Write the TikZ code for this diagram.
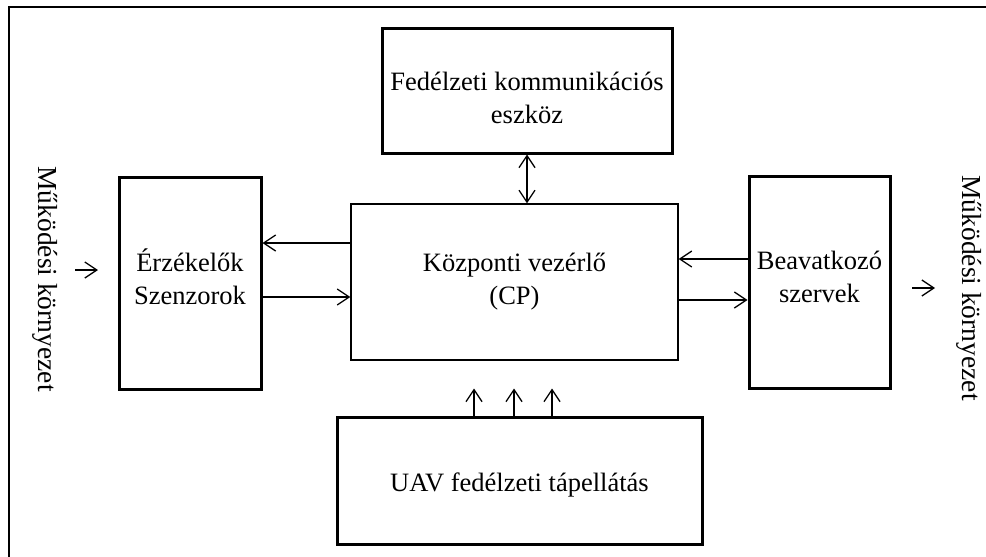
\documentclass[tikz,border=0pt]{standalone}
\usepackage{fontspec}
\setmainfont{Liberation Serif}
\usetikzlibrary{arrows.meta}
\tikzset{
  block/.style={draw=black, line width=3pt, fill=white, inner sep=0pt},
  cpbox/.style={draw=black, line width=1.3pt, fill=white, inner sep=0pt},
  lbl/.style={align=center, inner sep=0pt, font=\fontsize{26.5}{33}\selectfont},
  barb/.tip={Straight Barb[length=12pt,width=16pt,line width=1.3pt]},
  link/.style={line width=1.3pt, -barb},
  both/.style={line width=1.3pt, barb-barb},
  envtext/.style={rotate=-90, font=\fontsize{27.5}{33}\selectfont, inner sep=0pt}
}
\begin{document}
\begin{tikzpicture}[x=1pt, y=-1pt]
  \useasboundingbox (0,0) rectangle (986,557);
  % outer frame (open to the right and bottom)
  \draw[line width=1.5pt] (986,7) -- (9,7) -- (9,557);

  % blocks
  \node[block, minimum width=290pt, minimum height=125pt] (comm) at (527,90.5) {};
  \node[block, minimum width=142pt, minimum height=212pt] (sens) at (190,283) {};
  \node[cpbox, minimum width=327pt, minimum height=156pt] (cp) at (514.5,282) {};
  \node[block, minimum width=141pt, minimum height=212pt] (act) at (819.5,282) {};
  \node[block, minimum width=365pt, minimum height=127pt] (pow) at (519.5,480.5) {};

  % block captions
  \node[lbl] (commtxt) at ([yshift=-7pt]comm.center) {Fedélzeti kommunikációs\\eszköz};
  \node[lbl] (senstxt) at ([yshift=6pt]sens.center) {Érzékelők\\Szenzorok};
  \node[lbl] (cptxt) at (cp.center) {Központi vezérlő\\(CP)};
  \node[lbl] (acttxt) at ([yshift=5pt]act.center) {Beavatkozó\\szervek};
  \node[lbl] (powtxt) at ([yshift=-4pt]pow.center) {UAV fedélzeti tápellátás};

  % environment labels
  \node[envtext] (envL) at (45,279) {Működési környezet};
  \node[envtext] (envR) at (969,288) {Működési környezet};

  % communication link
  \draw[both] (comm.south) -- (comm.south |- cp.north);

  % sensors <-> controller
  \draw[link] ([yshift=39pt]cp.west) -- ([yshift=39pt]cp.west -| sens.east);
  \draw[link] ([yshift=-14pt]sens.east) -- ([yshift=-14pt]sens.east -| cp.west);

  % actuators <-> controller
  \draw[link] ([yshift=23pt]act.west) -- ([yshift=23pt]act.west -| cp.east);
  \draw[link] ([yshift=-18pt]cp.east) -- ([yshift=-18pt]cp.east -| act.west);

  % power supply feeds
  \coordinate (p1) at ([xshift=-45.5pt, yshift=27pt]pow.north);
  \coordinate (p2) at ([xshift=-5.5pt, yshift=27pt]pow.north);
  \coordinate (p3) at ([xshift=32.5pt, yshift=27pt]pow.north);
  \draw[link] (p1 |- pow.north) -- (p1);
  \draw[link] (p2 |- pow.north) -- (p2);
  \draw[link] (p3 |- pow.north) -- (p3);

  % environment arrows
  \coordinate (inA) at (75,270);
  \coordinate (inB) at (98,270);
  \coordinate (outA) at (912,288);
  \coordinate (outB) at (935,288);
  \draw[link] (inA) -- (inB);
  \draw[link] (outA) -- (outB);
\end{tikzpicture}
\end{document}
